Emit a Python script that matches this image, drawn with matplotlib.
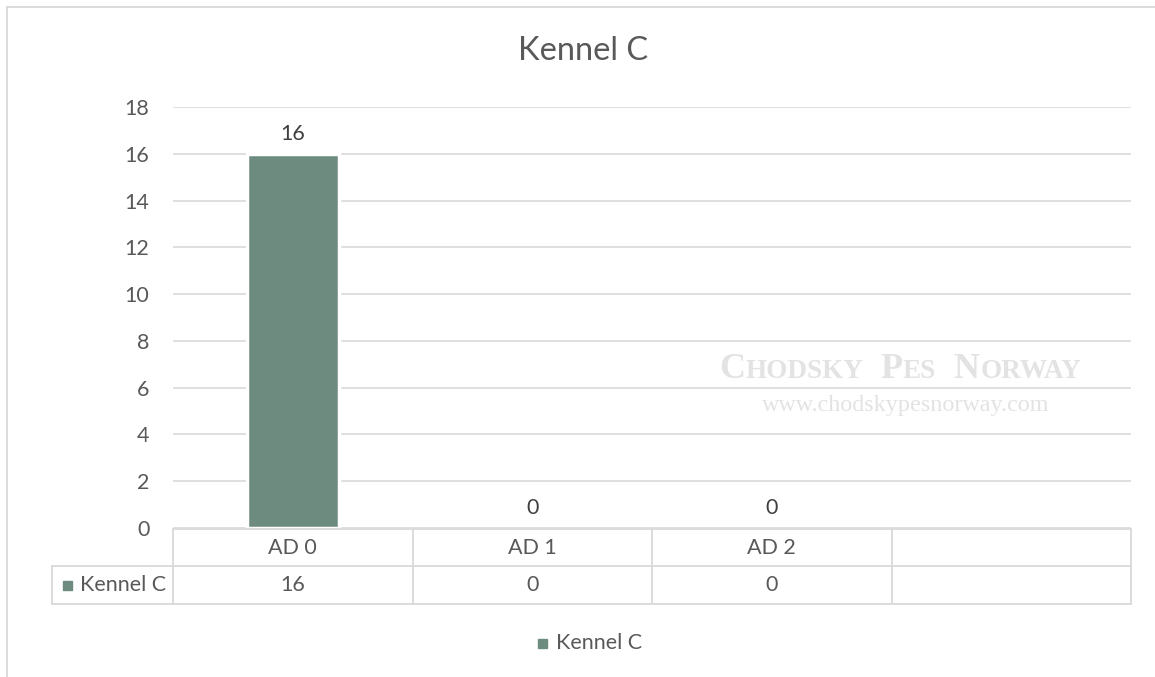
import matplotlib
matplotlib.use("Agg")
import matplotlib.pyplot as plt
from matplotlib.lines import Line2D
from matplotlib.patches import Rectangle
from matplotlib.offsetbox import TextArea, HPacker, AnnotationBbox

categories = ["AD 0", "AD 1", "AD 2", ""]
values = [16, 0, 0, None]
series_name = "Kennel C"
title = "Kennel C"
yticks = [0, 2, 4, 6, 8, 10, 12, 14, 16, 18]

BAR = "#6e8b7f"
TXT = "#595959"
GRID = "#d9d9d9"
FONT = ["Lato", "DejaVu Sans"]
plt.rcParams["font.family"] = FONT
FS = 15.5

W, H = 1155, 677
fig = plt.figure(figsize=(W / 100, H / 100), dpi=100)

def fx(px):
    return px / W

def fy(py):
    return 1 - py / H

ax_l, ax_r, ax_t, ax_b = 173, 1131, 107, 528
ax = fig.add_axes([fx(ax_l), fy(ax_b), fx(ax_r - ax_l), fy(ax_t) - fy(ax_b)])
x = list(range(len(categories)))
ax.set_xlim(-0.5, len(categories) - 0.5)
ax.set_ylim(0, 18)
ax.set_yticks(yticks)
ax.set_yticklabels([str(t) for t in yticks], fontsize=FS, color=TXT)
ax.tick_params(axis="y", length=0, pad=17)
ax.set_xticks([])
for s in ax.spines.values():
    s.set_visible(False)
ax.grid(axis="y", color=GRID, linewidth=1.2)
ax.set_axisbelow(True)

bx = [i for i, v in zip(x, values) if v is not None]
bv = [v for v in values if v is not None]
ax.bar(bx, bv, width=0.385, color=BAR, edgecolor="white",
       linewidth=[2.5 if v > 0 else 0 for v in bv], zorder=3)
for i, v in zip(bx, bv):
    ax.annotate(str(v), (i, v), xytext=(0, 7), textcoords="offset points",
                ha="center", va="bottom", fontsize=FS, color="#404040")

# Title
fig.text(fx(583), fy(51), title, ha="center", va="center", fontsize=23.5, color=TXT)

# Watermark (small caps)
wm_col = "#e3e3e3"
parts = [("C", 26), ("HODSKY", 19.5), ("  P", 26), ("ES", 19.5), ("  N", 26), ("ORWAY", 19.5)]
tas = [TextArea(t, textprops=dict(fontsize=s, color=wm_col, family="Liberation Serif",
                                  fontweight="bold")) for t, s in parts]
pack = HPacker(children=tas, align="baseline", pad=0, sep=0)
ab = AnnotationBbox(pack, (fx(900), fy(369)), xycoords="figure fraction", frameon=False,
                    box_alignment=(0.5, 0.5), zorder=1)
fig.add_artist(ab)
fig.text(fx(906), fy(405), "www.chodskypesnorway.com", ha="center", va="center",
         fontsize=17.4, color=wm_col, family="Liberation Serif")

# Data table
r0, r1, r2 = 529, 566, 604
tbl_l = 52
lw = 1.3
def hline(y, x0, x1):
    fig.add_artist(Line2D([fx(x0), fx(x1)], [fy(y), fy(y)], color=GRID, lw=lw))
def vline(xp, y0, y1):
    fig.add_artist(Line2D([fx(xp), fx(xp)], [fy(y0), fy(y1)], color=GRID, lw=lw))

hline(r0, ax_l, ax_r)
hline(r1, tbl_l, ax_r)
hline(r2, tbl_l, ax_r)
vline(tbl_l, r1, r2)
colw = (ax_r - ax_l) / len(categories)
for k in range(len(categories) + 1):
    vline(ax_l + k * colw, r0, r2)
for k, c in enumerate(categories):
    cx = ax_l + (k + 0.5) * colw
    fig.text(fx(cx), fy((r0 + r1) / 2), c, ha="center", va="center", fontsize=FS, color=TXT)
    v = values[k]
    fig.text(fx(cx), fy((r1 + r2) / 2), "" if v is None else str(v), ha="center", va="center",
             fontsize=FS, color=TXT)
fig.add_artist(Rectangle((fx(63), fy(590)), fx(9), fy(581) - fy(590), color=BAR))
fig.text(fx(80), fy((r1 + r2) / 2), series_name, ha="left", va="center", fontsize=FS, color=TXT)

# Legend
fig.add_artist(Rectangle((fx(538), fy(648)), fx(9), fy(639) - fy(648), color=BAR))
fig.text(fx(556), fy(643), series_name, ha="left", va="center", fontsize=FS, color=TXT)

# Outer border
fig.add_artist(Line2D([fx(6.5), fx(1155)], [fy(7), fy(7)], color=GRID, lw=1.3))
fig.add_artist(Line2D([fx(6.5), fx(6.5)], [fy(7), fy(677)], color=GRID, lw=1.3))

fig.savefig("out.png", dpi=100, facecolor="white")
